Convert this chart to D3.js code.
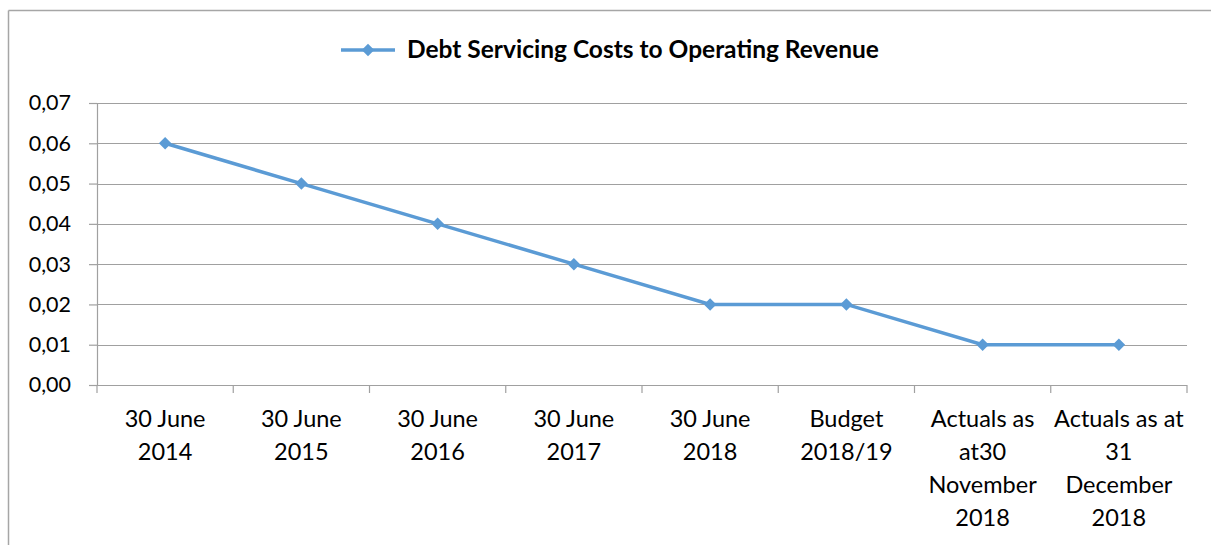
<!DOCTYPE html>
<html>
<head>
<meta charset="utf-8">
<script src="https://cdn.jsdelivr.net/npm/d3@7"></script>
<style>
  html, body { margin: 0; background: #fff; overflow: hidden; }
  svg { display: block; font-family: Lato, "Noto Sans", sans-serif; }
</style>
</head>
<body>
<div id="canvas"></div>
<script>
// chart data
var categories = [
  ["30 June", "2014"],
  ["30 June", "2015"],
  ["30 June", "2016"],
  ["30 June", "2017"],
  ["30 June", "2018"],
  ["Budget", "2018/19"],
  ["Actuals as", "at30", "November", "2018"],
  ["Actuals as at", "31", "December", "2018"]
];
var values = [0.06, 0.05, 0.04, 0.03, 0.02, 0.02, 0.01, 0.01];
var yTicks = [0, 0.01, 0.02, 0.03, 0.04, 0.05, 0.06, 0.07];
var seriesName = "Debt Servicing Costs to Operating Revenue";

var width = 1211, height = 545;
var margin = {left: 97, right: 24, top: 103, bottom: 160};
var color = "#5B9BD5";

var svg = d3.select("#canvas").append("svg")
  .attr("width", width)
  .attr("height", height);

// outer frame (only top and left edges fall inside the picture)
svg.append("line")
  .attr("x1", 8.5).attr("x2", width)
  .attr("y1", 10.5).attr("y2", 10.5)
  .attr("stroke", "#a6a6a6").attr("stroke-width", 1.5);
svg.append("line")
  .attr("x1", 8.5).attr("x2", 8.5)
  .attr("y1", 10.5).attr("y2", height)
  .attr("stroke", "#a6a6a6").attr("stroke-width", 1.5);

var plotW = width - margin.left - margin.right;
var plotH = height - margin.top - margin.bottom;

var g = svg.append("g")
  .attr("transform", "translate(" + margin.left + "," + margin.top + ")");

var x = d3.scaleBand()
  .domain(d3.range(categories.length))
  .range([0, plotW]);
var y = d3.scaleLinear()
  .domain([0, 0.07])
  .range([plotH, 0]);

// gridlines
g.selectAll(".grid").data(yTicks).enter()
  .append("line")
  .attr("class", "grid")
  .attr("x1", 0).attr("x2", plotW)
  .attr("y1", function(d) { return Math.round(y(d)) + 0.5; })
  .attr("y2", function(d) { return Math.round(y(d)) + 0.5; })
  .attr("stroke", "#a0a0a0")
  .attr("stroke-width", 1.2);

// y axis
var leftAxis = d3.axisLeft(y)
  .tickValues(yTicks)
  .tickSize(8)
  .tickPadding(18)
  .tickFormat(function(d) { return d3.format(".2f")(d).replace(".", ","); });
var ya = g.append("g").attr("class", "y axis").call(leftAxis);
ya.select(".domain").attr("stroke", "#a0a0a0").attr("stroke-width", 1.2);
ya.selectAll(".tick line").attr("stroke", "#a0a0a0").attr("stroke-width", 1.2);
ya.selectAll("text")
  .attr("font-size", "21.5px")
  .attr("fill", "#000")
  .attr("font-family", "Lato, 'Noto Sans', sans-serif");

// x axis with ticks at band edges
var xa = g.append("g")
  .attr("class", "x axis")
  .attr("transform", "translate(0," + plotH + ")");
xa.append("line")
  .attr("x1", 0).attr("x2", plotW)
  .attr("y1", 0.5).attr("y2", 0.5)
  .attr("stroke", "#a0a0a0").attr("stroke-width", 1.2);
var edges = d3.range(categories.length + 1);
xa.selectAll(".xtick").data(edges).enter()
  .append("line")
  .attr("class", "xtick")
  .attr("x1", function(d) { return d === categories.length ? plotW : x(d); })
  .attr("x2", function(d) { return d === categories.length ? plotW : x(d); })
  .attr("y1", 0).attr("y2", 8)
  .attr("stroke", "#a0a0a0").attr("stroke-width", 1.2);

var labels = xa.selectAll(".xlabel").data(categories).enter()
  .append("text")
  .attr("class", "xlabel")
  .attr("text-anchor", "middle")
  .attr("font-size", "23.5px")
  .attr("fill", "#000");
labels.selectAll("tspan").data(function(d, i) { return d.map(function(t) { return {t: t, i: i}; }); })
  .enter().append("tspan")
  .attr("x", function(d) { return x(d.i) + x.bandwidth() / 2; })
  .attr("y", function(d, j) { return 42 + j * 33; })
  .text(function(d) { return d.t; });

// line
var line = d3.line()
  .x(function(d, i) { return x(i) + x.bandwidth() / 2; })
  .y(function(d) { return y(d); });
g.append("path")
  .datum(values)
  .attr("d", line)
  .attr("fill", "none")
  .attr("stroke", color)
  .attr("stroke-width", 3.5);

var diamond = d3.symbol().type(d3.symbolDiamond2).size(100);
g.selectAll(".marker").data(values).enter()
  .append("path")
  .attr("class", "marker")
  .attr("d", diamond)
  .attr("transform", function(d, i) {
    return "translate(" + (x(i) + x.bandwidth() / 2) + "," + y(d) + ")";
  })
  .attr("fill", color);

// legend
var lg = svg.append("g").attr("transform", "translate(341,50)");
lg.append("line")
  .attr("x1", 0).attr("x2", 54)
  .attr("y1", 0).attr("y2", 0)
  .attr("stroke", color).attr("stroke-width", 3.5);
lg.append("path")
  .attr("d", diamond)
  .attr("transform", "translate(27,0)")
  .attr("fill", color);
lg.append("text")
  .attr("x", 66).attr("y", 8)
  .attr("font-size", "24.5px")
  .attr("font-weight", "bold")
  .attr("fill", "#000")
  .text(seriesName);
</script>
</body>
</html>
